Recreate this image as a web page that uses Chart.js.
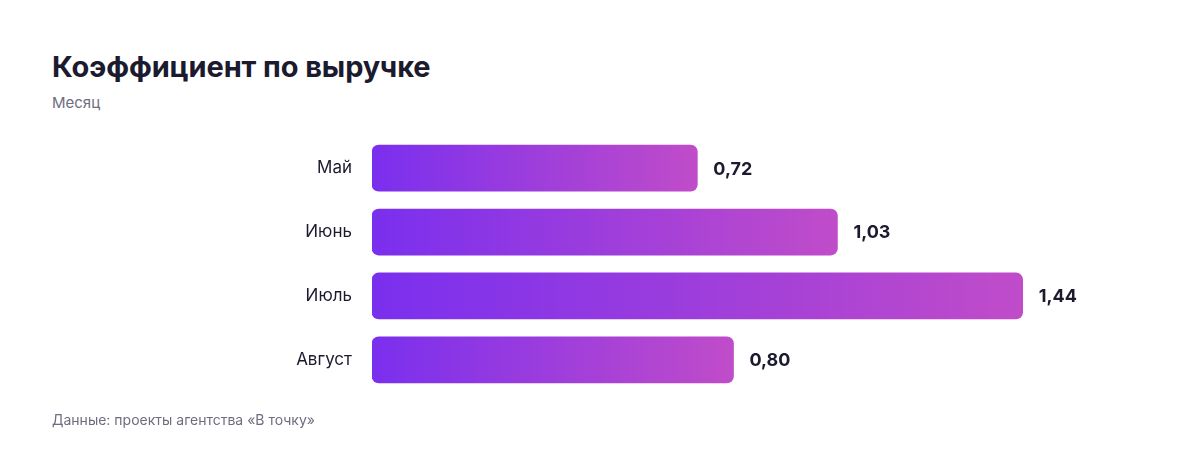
<!DOCTYPE html>
<html>
<head>
<meta charset="utf-8">
<script src="https://cdn.jsdelivr.net/npm/chart.js@4"></script>
<style>
  body { margin: 0; background: #fff; font-family: Inter, "Noto Sans", sans-serif; }
  #wrap { position: relative; width: 1200px; height: 456px; overflow: hidden; }
  h1 { position: absolute; left: 52px; top: 49px; margin: 0; font-size: 29px; font-weight: 700; color: #1b1a2e; letter-spacing: -0.1px; }
  .sub { position: absolute; left: 52px; top: 93px; font-size: 15px; color: #6e6d80; }
  .src { position: absolute; left: 52px; top: 411px; font-size: 14px; color: #6e6d80; }
  #box { position: absolute; left: 0; top: 106px; width: 1200px; height: 316px; }
</style>
</head>
<body>
<div id="wrap">
  <h1>Коэффициент по выручке</h1>
  <div class="sub">Месяц</div>
  <div id="box"><canvas id="chart"></canvas></div>
  <div class="src">Данные: проекты агентства «В точку»</div>
</div>
<script>
// months and revenue ratio
const months = ["Май", "Июнь", "Июль", "Август"];
const ratio = [0.72, 1.03, 1.44, 0.80];

const colorStart = "#7a2fee";
const colorEnd = "#c04cc9";

// each bar gets its own left-to-right gradient
function barGradient(ctx) {
  const chart = ctx.chart;
  if (!chart.chartArea || !chart.scales.x) return colorStart;
  const x0 = chart.scales.x.getPixelForValue(0);
  const x1 = chart.scales.x.getPixelForValue(ctx.raw);
  const g = chart.ctx.createLinearGradient(x0, 0, x1, 0);
  g.addColorStop(0, colorStart);
  g.addColorStop(1, colorEnd);
  return g;
}

// draw the value next to each bar
const valueLabels = {
  id: "valueLabels",
  afterDatasetsDraw(chart) {
    const c = chart.ctx;
    const meta = chart.getDatasetMeta(0);
    c.save();
    c.font = "bold 18px Inter, 'Noto Sans', sans-serif";
    c.fillStyle = "#1b1a2e";
    c.textBaseline = "middle";
    meta.data.forEach(function (bar, i) {
      c.fillText(ratio[i].toFixed(2).replace(".", ","), bar.x + 16, bar.y + 1);
    });
    c.restore();
  }
};

new Chart(document.getElementById("chart"), {
  type: "bar",
  data: {
    labels: months,
    datasets: [{
      data: ratio,
      backgroundColor: barGradient,
      borderRadius: 7,
      borderSkipped: false,
      barThickness: 46
    }]
  },
  options: {
    indexAxis: "y",
    responsive: true,
    maintainAspectRatio: false,
    animation: false,
    layout: { padding: { top: 0, bottom: 0, right: 105, left: 0 } },
    plugins: { legend: { display: false }, tooltip: { enabled: false } },
    scales: {
      x: { display: false, min: 0, max: 1.6 },
      y: {
        grid: { display: false, drawTicks: false },
        border: { display: false },
        ticks: { color: "#1b1a2e", padding: 20, font: { family: "Inter, 'Noto Sans', sans-serif", size: 17 } },
        afterFit(scale) { scale.width = 372; }
      }
    }
  },
  plugins: [valueLabels]
});
</script>
</body>
</html>
